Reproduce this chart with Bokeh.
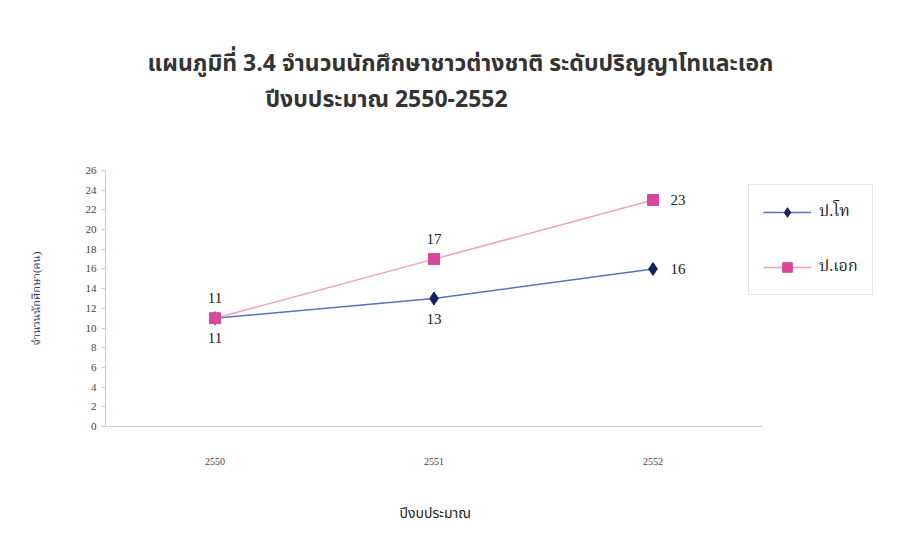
from bokeh.plotting import figure
from bokeh.models import (Title, Legend, LegendItem, FixedTicker,
                          ColumnDataSource, Range1d)
from bokeh.core.properties import value
from bokeh.embed import file_html
from bokeh.resources import INLINE

years = [2550, 2551, 2552]
master = [11, 13, 16]      # ป.โท
doctor = [11, 17, 23]      # ป.เอก
series_names = ["ป.โท", "ป.เอก"]
y_ticks = list(range(0, 27, 2))

title_line1 = "แผนภูมิที่ 3.4  จำนวนนักศึกษาชาวต่างชาติ ระดับปริญญาโทและเอก"
title_line2 = "ปีงบประมาณ 2550-2552"
x_label = "ปีงบประมาณ"
y_label = "จำนวนนักศึกษา(คน)"

THAI_SANS = "Tahoma, 'Noto Sans Thai', Loma, 'Noto Sans', sans-serif"
SERIF = "'Liberation Serif', 'Times New Roman', 'Noto Serif Thai', Norasi, serif"

# geometry: plot area of the category axis is 657px wide for 3 categories;
# the frame is extended to the right so the legend can sit beside it
W, H = 898, 530
LEFT, AXIS_RIGHT, FRAME_RIGHT, TOP, BOTTOM = 105, 762, 892, 170, 426
x_lo = years[0] - 0.5
x_hi_axis = years[-1] + 0.5
px_per_year = (AXIS_RIGHT - LEFT) / (x_hi_axis - x_lo)
x_hi = x_hi_axis + (FRAME_RIGHT - AXIS_RIGHT) / px_per_year

p = figure(width=W, height=H, x_range=Range1d(x_lo, x_hi), y_range=(0, 26),
           output_backend="svg", toolbar_location=None,
           min_border_left=LEFT, min_border_right=W - FRAME_RIGHT,
           min_border_top=TOP, min_border_bottom=H - BOTTOM)
p.background_fill_color = "white"
p.border_fill_color = "white"
p.outline_line_color = None
p.xgrid.grid_line_color = None
p.ygrid.grid_line_color = None

# Axes
p.yaxis.ticker = FixedTicker(ticks=y_ticks)
p.yaxis.axis_line_color = "#d0d0d0"
p.yaxis.major_tick_line_color = "#d0d0d0"
p.yaxis.major_tick_out = 4
p.yaxis.major_tick_in = 0
p.yaxis.minor_tick_line_color = None
p.yaxis.major_label_text_font = SERIF
p.yaxis.major_label_text_font_size = "11px"
p.yaxis.major_label_text_color = "#444444"
p.yaxis.major_label_standoff = 5
p.yaxis.axis_label = y_label
p.yaxis.axis_label_text_font = SERIF
p.yaxis.axis_label_text_font_size = "11px"
p.yaxis.axis_label_text_font_style = "normal"
p.yaxis.axis_label_text_color = "#333355"
p.yaxis.axis_label_standoff = 41

p.xaxis.ticker = FixedTicker(ticks=years)
p.xaxis.bounds = (x_lo, x_hi_axis)
p.xaxis.axis_line_color = "#d0d0d0"
p.xaxis.major_tick_line_color = None
p.xaxis.minor_tick_line_color = None
p.xaxis.major_label_text_font = SERIF
p.xaxis.major_label_text_font_size = "10px"
p.xaxis.major_label_text_color = "#444444"
p.xaxis.major_label_standoff = 25

# Series
src_m = ColumnDataSource(dict(x=years, y=master))
src_d = ColumnDataSource(dict(x=years, y=doctor))

lm = p.line("x", "y", source=src_m, line_color="#5275bb", line_width=1.5)
md = p.scatter("x", "y", source=src_m, marker="diamond", size=13,
               fill_color="#14215a", line_color="#14215a")
ld = p.line("x", "y", source=src_d, line_color="#f0a2bb", line_width=1.5)
ms = p.scatter("x", "y", source=src_d, marker="square", size=11,
               fill_color="#d9479a", line_color="#d9479a")

# Data labels
lab_style = dict(text_font=value("Liberation Serif"), text_font_size="15px",
                 text_color="#222222", text_align="center",
                 text_baseline="middle")
p.text(x=years[:2], y=master[:2], text=[str(v) for v in master[:2]],
       y_offset=20, **lab_style)
p.text(x=years[2:], y=master[2:], text=[str(v) for v in master[2:]],
       x_offset=25, **lab_style)
p.text(x=years[:2], y=doctor[:2], text=[str(v) for v in doctor[:2]],
       y_offset=-20, **lab_style)
p.text(x=years[2:], y=doctor[2:], text=[str(v) for v in doctor[2:]],
       x_offset=25, **lab_style)

# Legend
legend = Legend(items=[LegendItem(label=series_names[0], renderers=[lm, md]),
                       LegendItem(label=series_names[1], renderers=[ld, ms])],
                location=(748 - LEFT, BOTTOM - 295))
legend.label_text_font = SERIF
legend.label_text_font_size = "16px"
legend.label_text_color = "#222222"
legend.glyph_width = 48
legend.glyph_height = 24
legend.label_standoff = 8
legend.spacing = 29
legend.padding = 14
legend.margin = 0
legend.border_line_color = "#cccccc"
legend.background_fill_color = "white"
p.add_layout(legend, "center")

# Titles above (first added = closest to plot)
spacer = Title(text=" ", text_font_size="1px", standoff=51)
t2 = Title(text=title_line2, align="left", offset=160, standoff=0,
           text_font=THAI_SANS, text_font_size="23px",
           text_font_style="bold", text_color="#333333")
t1 = Title(text=title_line1, align="left", offset=42, standoff=0,
           text_font=THAI_SANS, text_font_size="23px",
           text_font_style="bold", text_color="#333333")
p.add_layout(spacer, "above")
p.add_layout(t2, "above")
p.add_layout(t1, "above")

# x-axis title, centred under the category area (not under the legend)
xspacer = Title(text=" ", text_font_size="1px", standoff=30)
xt = Title(text=x_label, align="left", offset=294, standoff=0,
           text_font=THAI_SANS, text_font_size="14px",
           text_font_style="normal", text_color="#222222")
p.add_layout(xspacer, "below")
p.add_layout(xt, "below")

open("out.html", "w").write(file_html(p, INLINE))
